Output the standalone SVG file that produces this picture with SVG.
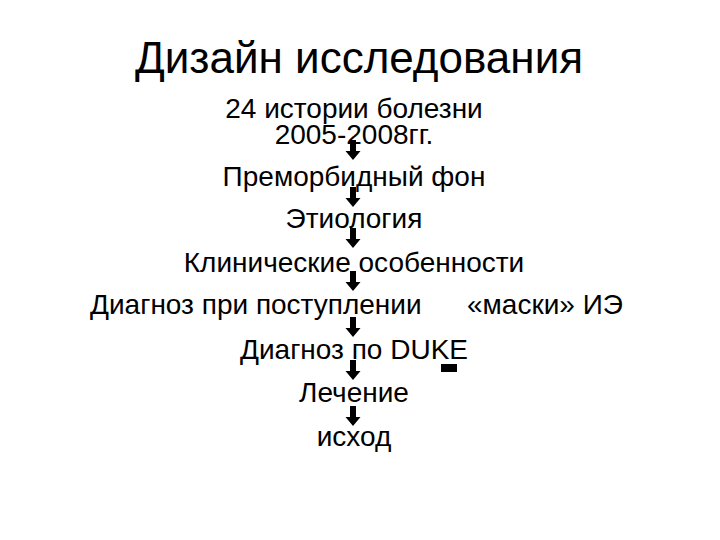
<svg xmlns="http://www.w3.org/2000/svg" width="720" height="540" viewBox="0 0 720 540">
<style>
text{font-family:"Liberation Sans",Arial,sans-serif;fill:#000}
.t{font-size:44px;text-anchor:middle}
.n{font-size:28px;text-anchor:middle}
.s{font-size:28px}
.arrow{fill:#000;stroke:none}
</style>
<defs>
<path id="arr" d="M-3,0 h6 v11 h4.5 l-7.5,9 l-7.5,-9 h4.5 z"/>
</defs>
<rect width="720" height="540" fill="#fff"/>
<g id="title"><text class="t" x="359" y="73">Дизайн исследования</text></g>
<g id="n1"><text class="n" x="354" y="118">24 истории болезни</text><text class="n" x="354" y="144">2005-2008гг.</text></g>
<g id="n2"><text class="n" x="354" y="186">Преморбидный фон</text></g>
<g id="n3"><text class="n" x="354" y="228">Этиология</text></g>
<g id="n4"><text class="n" x="354" y="272">Клинические особенности</text></g>
<g id="n5"><text class="s" x="90" y="314">Диагноз при поступлении</text></g>
<g id="n6"><text class="s" x="467" y="314">«маски» ИЭ</text></g>
<g id="n7"><text class="n" x="354" y="359">Диагноз по DUKE</text></g>
<g id="n8"><text class="n" x="354" y="402">Лечение</text></g>
<g id="n9"><text class="n" x="354" y="446">исход</text></g>
<g id="connectors" class="arrow">
<use href="#arr" x="353" y="140"/>
<use href="#arr" x="353" y="187"/>
<use href="#arr" x="353" y="228"/>
<use href="#arr" x="353" y="271"/>
<use href="#arr" x="353" y="317"/>
<use href="#arr" x="353" y="360"/>
<use href="#arr" x="353" y="406"/>
<rect x="441" y="364" width="16" height="8"/>
</g>
</svg>
